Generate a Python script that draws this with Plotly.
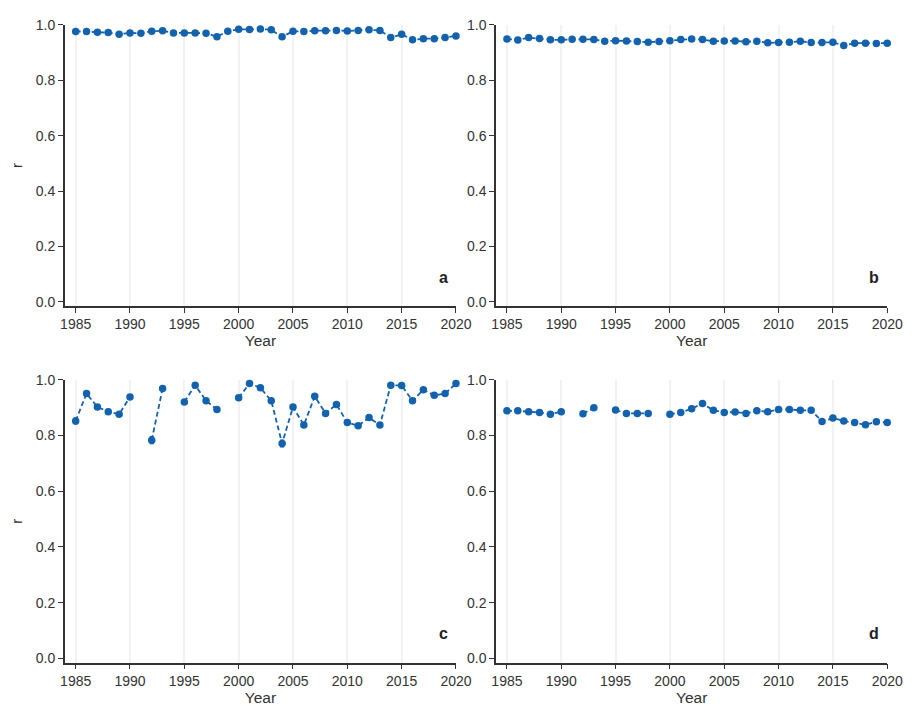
import plotly.graph_objects as go

years = list(range(1985, 2021))

r_a = [0.976, 0.976, 0.973, 0.972, 0.966, 0.971, 0.970, 0.977, 0.979, 0.971,
       0.971, 0.971, 0.970, 0.957, 0.977, 0.984, 0.983, 0.985, 0.982, 0.957,
       0.977, 0.976, 0.979, 0.979, 0.980, 0.978, 0.980, 0.982, 0.980, 0.954,
       0.966, 0.946, 0.950, 0.950, 0.954, 0.960]

r_b = [0.949, 0.945, 0.954, 0.951, 0.946, 0.946, 0.948, 0.948, 0.947, 0.941,
       0.943, 0.942, 0.940, 0.937, 0.940, 0.943, 0.947, 0.949, 0.947, 0.941,
       0.942, 0.942, 0.939, 0.941, 0.935, 0.936, 0.937, 0.941, 0.936, 0.936,
       0.937, 0.925, 0.934, 0.934, 0.933, 0.934]

r_c = [0.852, 0.950, 0.902, 0.885, 0.876, 0.938, None, 0.783, 0.968, None,
       0.920, 0.980, 0.924, 0.893, None, 0.935, 0.986, 0.971, 0.924, 0.771,
       0.902, 0.837, 0.940, 0.879, 0.911, 0.846, 0.835, 0.864, 0.837, 0.980,
       0.979, 0.924, 0.964, 0.944, 0.950, 0.986]

err_c = [0.010, 0.005, 0.005, 0.005, 0.005, 0.005, 0, 0.012, 0.005, 0,
         0.005, 0.005, 0.005, 0.005, 0, 0.005, 0.005, 0.005, 0.005, 0.012,
         0.005, 0.008, 0.005, 0.005, 0.005, 0.006, 0.006, 0.005, 0.006, 0.005,
         0.005, 0.005, 0.005, 0.005, 0.005, 0.005]

r_d = [0.888, 0.888, 0.885, 0.882, 0.876, 0.885, None, 0.878, 0.899, None,
       0.891, 0.879, 0.879, 0.879, None, 0.876, 0.882, 0.896, 0.914, 0.890,
       0.882, 0.884, 0.879, 0.888, 0.885, 0.893, 0.893, 0.890, 0.890, 0.850,
       0.862, 0.852, 0.846, 0.838, 0.849, 0.846]

panel_labels = ["a", "b", "c", "d"]
x_ticks = [1985, 1990, 1995, 2000, 2005, 2010, 2015, 2020]
y_ticks = [0.0, 0.2, 0.4, 0.6, 0.8, 1.0]

BLUE = "#1262ae"
FONT = "Liberation Sans, Arial"
OFF = 8                     # page body margin
W, H = 921 - 2 * OFF, 714 - 2 * OFF

def xd(a, b):
    return [(a - OFF) / W, (b - OFF) / W]

def yd(top, bot):
    return [1 - (bot - OFF) / H, 1 - (top - OFF) / H]

xdoms = [xd(62, 462), xd(503, 903)]
ydoms = [yd(17, 303), yd(378, 666)]

fig = go.Figure()

series = [r_a, r_b, r_c, r_d]
for i, vals in enumerate(series):
    row, col = divmod(i, 2)
    ax = "" if i == 0 else str(i + 1)
    kw = dict(
        x=years, y=vals, mode="lines+markers",
        line=dict(color=BLUE, width=1.8, dash="5px,3px"),
        marker=dict(color=BLUE, size=7.5),
        connectgaps=False, showlegend=False, cliponaxis=False,
        xaxis="x" + ax, yaxis="y" + ax,
    )
    if i == 2:
        kw["error_y"] = dict(type="data", array=err_c, color=BLUE, thickness=1.5, width=2)
    fig.add_trace(go.Scatter(**kw))

    axis_common = dict(
        showline=True, linecolor="#333333", linewidth=1.5,
        ticks="outside", ticklen=5, tickcolor="#333333", tickwidth=1.2,
        tickfont=dict(family=FONT, size=14, color="#333333"),
        zeroline=False,
    )
    fig.update_layout(**{
        "xaxis" + ax: dict(
            domain=xdoms[col], anchor="y" + ax, range=[1984, 2020],
            tickvals=x_ticks, showgrid=True, gridcolor="#f2f2f2", gridwidth=1.5,
            title=dict(text="Year", standoff=3,
                       font=dict(family=FONT, size=15.5, color="#333333")),
            **axis_common),
        "yaxis" + ax: dict(
            domain=ydoms[row], anchor="x" + ax, range=[-0.015, 1.0],
            tickvals=y_ticks, tickformat=".1f", showgrid=False,
            title=dict(text="r" if col == 0 else "", standoff=14,
                       font=dict(family=FONT, size=15, color="#333333")),
            **axis_common),
    })
    fig.add_annotation(
        text="<b>%s</b>" % panel_labels[i], xref="x%s domain" % ax, yref="y%s domain" % ax,
        x=0.985, y=0.065, xanchor="right", yanchor="bottom", showarrow=False,
        font=dict(family=FONT, size=16, color="#222222"),
    )

fig.update_layout(
    width=W, height=H,
    margin=dict(l=0, r=0, t=0, b=0),
    paper_bgcolor="white", plot_bgcolor="white",
)

fig.write_html("out.html")
